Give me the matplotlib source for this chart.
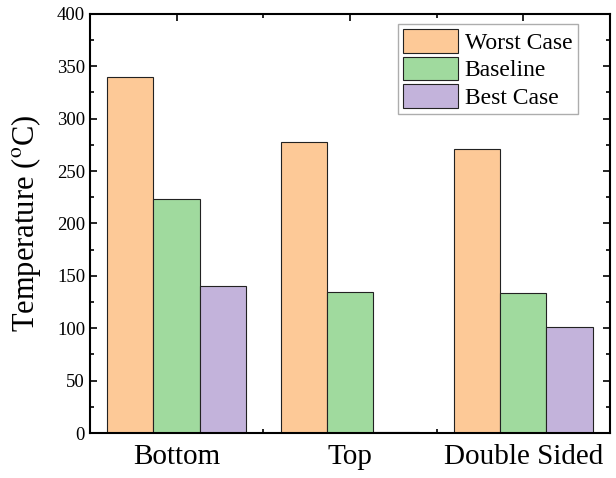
import numpy as np
import matplotlib
matplotlib.use("Agg")
import matplotlib.pyplot as plt
from matplotlib.ticker import MultipleLocator, FixedLocator

plt.rcParams['font.family'] = ['Liberation Serif', 'DejaVu Serif']
plt.rcParams['mathtext.fontset'] = 'stix'

categories = ["Bottom", "Top", "Double Sided"]
series_names = ["Worst Case", "Baseline", "Best Case"]
worst_case = [340, 278, 271]
baseline = [223, 135, 134]
best_case = [140, 1, 101]
colors = ["#FDC997", "#A0DA9E", "#C3B3DB"]

fig = plt.figure(figsize=(6.16, 4.78), dpi=100)
ax = fig.add_axes([0.146, 0.094, 0.844, 0.877])

x = np.arange(1, len(categories) + 1)
width = 0.8 / 3
for i, (vals, name, col) in enumerate(zip([worst_case, baseline, best_case], series_names, colors)):
    ax.bar(x + (i - 1) * width, vals, width, color=col, edgecolor="#222222",
           linewidth=0.8, label=name, zorder=2)

ax.set_xlim(0.5, 3.5)
ax.set_ylim(0, 400)
ax.set_xticks(x)
ax.set_xticklabels(categories, fontsize=21)
ax.xaxis.set_minor_locator(FixedLocator([1.5, 2.5]))
ax.yaxis.set_major_locator(MultipleLocator(50))
ax.yaxis.set_minor_locator(MultipleLocator(25))
ax.tick_params(axis='y', labelsize=13.5)
ax.tick_params(which='both', direction='in', top=True, right=True, width=1.2)
ax.tick_params(which='major', length=5)
ax.tick_params(which='minor', length=3)
ax.tick_params(axis='x', pad=8)
for s in ax.spines.values():
    s.set_linewidth(1.5)

ax.set_ylabel("Temperature ($^{\\mathrm{o}}$C)", fontsize=22, labelpad=10)

leg = ax.legend(loc='upper right', bbox_to_anchor=(0.947, 0.987), fontsize=17,
                frameon=True, fancybox=False, edgecolor="#999999",
                handlelength=2.3, handleheight=1.15, handletextpad=0.3,
                labelspacing=0.12, borderpad=0.22, borderaxespad=0.2)
leg.get_frame().set_linewidth(1.0)

fig.savefig("out.png", dpi=100)
